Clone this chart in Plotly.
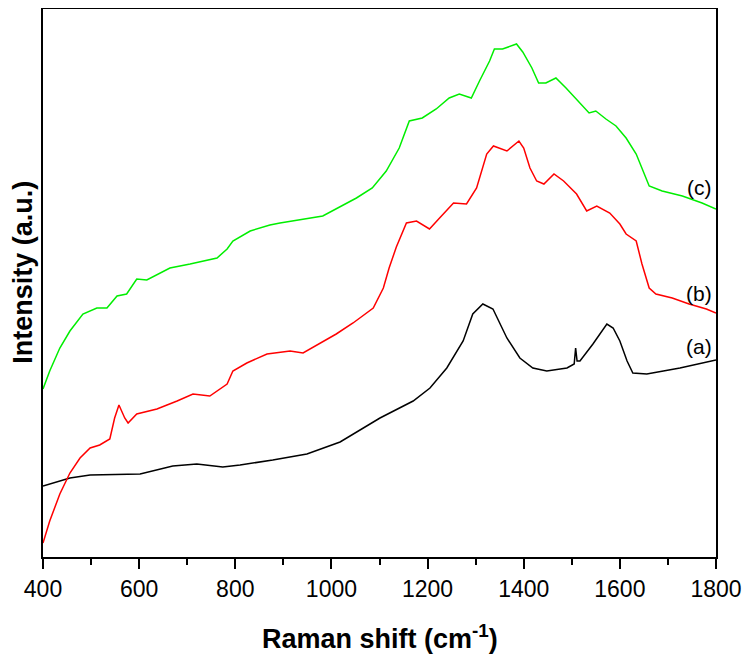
import plotly.graph_objects as go

# Raman shift (cm^-1) and intensity (a.u., arbitrary offset units)
x_a = [400, 456, 498, 602, 670, 720, 774, 810, 878, 949, 1018, 1101, 1170, 1205, 1240, 1274, 1294,
       1315, 1336, 1365, 1392, 1419, 1448, 1490, 1505, 1508, 1511, 1517, 1544, 1573, 1586, 1600,
       1615, 1627, 1656, 1725, 1800]
y_a = [71, 79, 82, 83, 91, 93, 90, 92, 97, 103, 115, 139, 156, 169, 189, 216, 243,
       253, 248, 219, 199, 189, 186, 189, 193, 209, 196, 196, 213, 233, 229, 216,
       196, 184, 183, 189, 197]

x_b = [400, 414, 435, 456, 477, 498, 518, 539, 549, 558, 570, 577, 595, 637, 679, 712, 747, 783,
       795, 824, 866, 914, 941, 974, 1010, 1045, 1087, 1108, 1120, 1135, 1156, 1177, 1204, 1225,
       1254, 1281, 1302, 1323, 1337, 1365, 1390, 1400, 1413, 1427, 1442, 1463, 1483, 1510, 1531,
       1552, 1579, 1600, 1613, 1634, 1646, 1661, 1675, 1709, 1744, 1780, 1800]
y_b = [14, 36, 63, 84, 99, 109, 112, 118, 139, 152, 139, 134, 143, 148, 156, 163, 161, 173,
       186, 194, 203, 206, 204, 213, 223, 234, 249, 269, 289, 310, 334, 336, 328, 339,
       354, 353, 369, 403, 411, 406, 416, 409, 389, 376, 373, 383, 376, 363, 346,
       351, 344, 333, 323, 316, 293, 269, 263, 259, 253, 248, 244]

x_c = [400, 414, 435, 456, 483, 512, 533, 554, 574, 595, 616, 664, 706, 762, 783, 795, 831, 872,
       893, 982, 1052, 1085, 1114, 1141, 1162, 1189, 1218, 1245, 1266, 1291, 1308, 1329, 1339,
       1356, 1385, 1398, 1417, 1431, 1446, 1467, 1488, 1509, 1536, 1550, 1571, 1592, 1613, 1634,
       1661, 1688, 1730, 1771, 1800]
y_c = [168, 186, 209, 226, 243, 249, 249, 261, 263, 278, 277, 289, 293, 299, 308, 316, 326, 332,
       334, 341, 359, 369, 386, 409, 436, 439, 448, 459, 463, 459, 476, 496, 508,
       508, 513, 505, 489, 474, 474, 479, 469, 458, 444, 446, 438, 431, 419, 403,
       371, 366, 361, 354, 348]

labels = ["(a)", "(b)", "(c)"]
label_y = [211, 264, 370]
x_ticks = [400, 600, 800, 1000, 1200, 1400, 1600, 1800]

fig = go.Figure()
for xs, ys, col in [(x_a, y_a, "black"), (x_b, y_b, "#ff0000"), (x_c, y_c, "#00ee00")]:
    fig.add_trace(go.Scatter(x=xs, y=ys, mode="lines", line=dict(color=col, width=1.5),
                             showlegend=False, hoverinfo="skip"))

for lab, ly in zip(labels, label_y):
    fig.add_annotation(x=1796, y=ly, text=lab, showarrow=False, xanchor="right", yanchor="middle",
                       font=dict(family="Arial, Liberation Sans", size=21, color="black"))

fig.add_annotation(xref="paper", yref="paper", x=0.5, y=-0.146, text="<b>Raman shift (cm<sup>-1</sup>)</b>",
                   showarrow=False, xanchor="center", yanchor="middle",
                   font=dict(family="Arial, Liberation Sans", size=27, color="black"))
fig.add_annotation(xref="paper", yref="paper", x=-0.030, y=0.520, text="<b>Intensity (a.u.)</b>",
                   textangle=-90, showarrow=False, xanchor="center", yanchor="middle",
                   font=dict(family="Arial, Liberation Sans", size=27, color="black"))

# page body adds an 8px offset; compensate so the plot box lands at about 43..716 x 9..557
fig.update_layout(
    width=743, height=652,
    margin=dict(l=35, r=35, t=1, b=103, autoexpand=False),
    paper_bgcolor="white", plot_bgcolor="white",
    font=dict(family="Arial, Liberation Sans", color="black"),
    xaxis=dict(range=[400, 1800], tickvals=x_ticks, ticks="outside", ticklen=10, tickwidth=2,
               tickcolor="black", showline=True, linewidth=2, linecolor="black", mirror=True,
               showgrid=False, zeroline=False, tickfont=dict(size=23),
               minor=dict(dtick=100, tick0=400, ticks="outside", ticklen=6, tickwidth=2, tickcolor="black")),
    yaxis=dict(range=[0, 548], showticklabels=False, ticks="", showline=True, linewidth=2,
               linecolor="black", mirror=True, showgrid=False, zeroline=False),
)

fig.write_html("out.html")
